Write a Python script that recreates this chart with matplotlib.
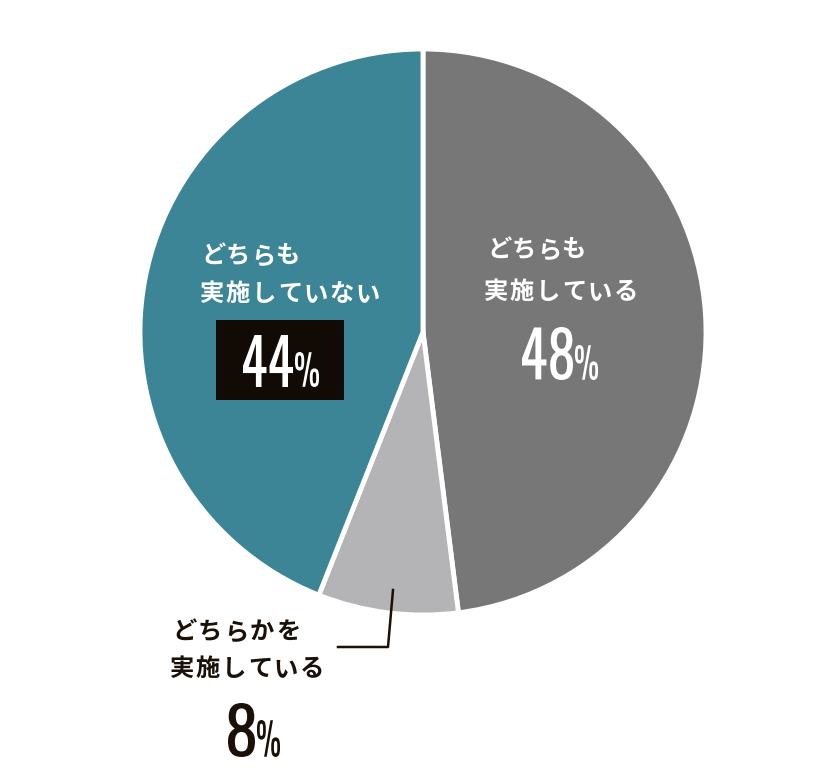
import matplotlib
matplotlib.use('Agg')
import matplotlib.pyplot as plt
from matplotlib import font_manager as fm
from matplotlib.patches import Rectangle, PathPatch
from matplotlib.textpath import TextPath
from matplotlib.transforms import Affine2D

plt.rcParams['font.family'] = ['Noto Sans CJK JP', 'DejaVu Sans']

labels = ['どちらも\n実施している', 'どちらかを\n実施している', 'どちらも\n実施していない']
values = [48, 8, 44]
colors = ['#777777', '#b4b4b6', '#3c8596']

W, H = 814, 780
CX, CY, R = 423, 332, 283

def fx(px):
    return px / W

def fy(py):
    return 1 - py / H

fig = plt.figure(figsize=(W / 100, H / 100), dpi=100)
ax = fig.add_axes([fx(CX - R), fy(CY + R), 2 * R / W, 2 * R / H])
ax.pie(values, colors=colors, startangle=90, counterclock=False, radius=1,
       wedgeprops=dict(edgecolor='white', linewidth=3.5))
ax.set_xlim(-1, 1)
ax.set_ylim(-1, 1)
ax.set_aspect('equal')
ax.axis('off')

# condensed figures for the percentages
have = {f.name for f in fm.fontManager.ttflist}
num_family = 'DejaVu Sans'
for cand in ['Oswald', 'Bebas Neue', 'Roboto Condensed', 'Liberation Sans Narrow', 'Roboto']:
    if cand in have:
        num_family = cand
        break
num_prop = fm.FontProperties(family=num_family, weight='bold')
px_to_fig = Affine2D().scale(1 / W, 1 / H) + fig.transFigure

def fit_text(s, left, top, right, bottom, color):
    # draw s stretched into the pixel box (left, top, right, bottom)
    path = TextPath((0, 0), s, size=100, prop=num_prop)
    ext = path.get_extents()
    sx = (right - left) / ext.width
    sy = (bottom - top) / ext.height
    tr = (Affine2D().translate(-ext.x0, -ext.y0).scale(sx, sy)
          .translate(left, H - bottom) + px_to_fig)
    fig.add_artist(PathPatch(path, transform=tr, facecolor=color,
                             edgecolor='none'))

def pct(val, dbox, pbox, color):
    fit_text(str(val), *dbox, color)
    fit_text('%', *pbox, color)

def label(x, y, s, color, pitch=26):
    for i, ch in enumerate(s):
        fig.text(fx(x + 12 + i * pitch), fy(y), ch, ha='center', va='center',
                 color=color, fontsize=17.5, fontweight='bold')

# left: どちらも実施していない
label(201, 256, 'どちらも', 'white', pitch=25)
label(200, 294, '実施していない', 'white')
fig.add_artist(Rectangle((fx(216), fy(400)), (344 - 216) / W, 80 / H,
                         transform=fig.transFigure, facecolor='#120a05',
                         edgecolor='none'))
pct(values[2], (243, 335, 293, 387), (295, 352, 319, 387), 'white')

# right: どちらも実施している
label(487, 250, 'どちらも', 'white', pitch=25)
label(484, 292, '実施している', 'white')
pct(values[0], (522, 327, 573, 380), (575, 345, 598, 380), 'white')

# bottom: どちらかを実施している
label(172, 632, 'どちらかを', '#1a1008')
label(170, 669, '実施している', '#1a1008')
pct(values[1], (228, 703, 255, 757), (257, 720, 280, 757), '#1a1008')

# leader line
fig.add_artist(plt.Line2D([fx(393), fx(388), fx(338)], [fy(590), fy(647), fy(647)],
                          transform=fig.transFigure, color='#1a1008', linewidth=1.8))

fig.savefig('out.png', dpi=100, facecolor='white')
